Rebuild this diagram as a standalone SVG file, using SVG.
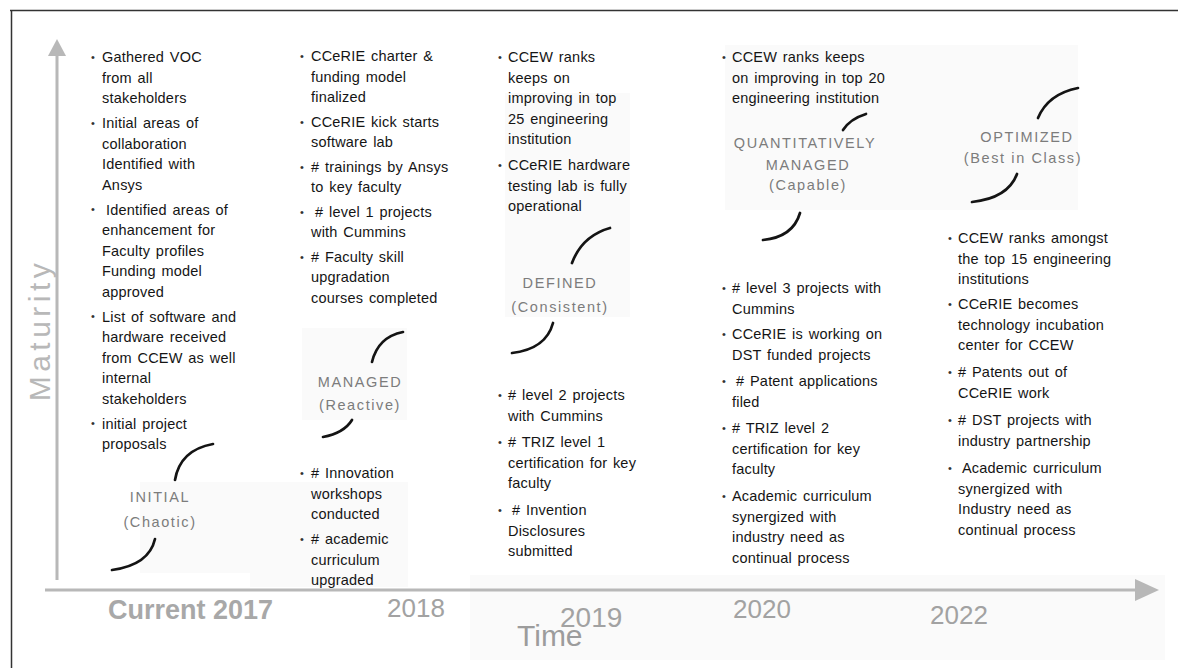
<svg xmlns="http://www.w3.org/2000/svg" width="1178" height="668" viewBox="0 0 1178 668">
<style>
.t{font-family:"Liberation Sans",Arial,sans-serif;font-size:14.5px;fill:#151515;letter-spacing:0.2px;word-spacing:1.5px}
.b{font-family:"Liberation Sans",Arial,sans-serif;font-size:11px;fill:#333}
.s{font-family:"Liberation Sans",Arial,sans-serif;font-size:14.5px;fill:#7c7c7c;text-anchor:middle;letter-spacing:1.6px}
.y{font-family:"Liberation Sans",Arial,sans-serif;font-size:26px;fill:#a2a2a2}
.ax{stroke:#b8b8b8;stroke-width:3;fill:none}
.ah{fill:#b8b8b8}
.c{stroke:#141414;stroke-width:2.7;fill:none;stroke-linecap:round}
.p{fill:#fafafa}
</style>
<rect width="1178" height="668" fill="#ffffff"/>
<g id="panels">
<rect class="p" x="725" y="45" width="353" height="165"/>
<rect class="p" x="505" y="93" width="125" height="224"/>
<rect class="p" x="302" y="328" width="105" height="92"/>
<rect class="p" x="140" y="482" width="140" height="91"/>
<rect class="p" x="250" y="482" width="158" height="105"/>
<rect class="p" x="470" y="575" width="695" height="85"/>
</g>
<g id="frame">
<line x1="10" y1="10.5" x2="1178" y2="10.5" stroke="#333" stroke-width="1.5"/>
<line x1="11.5" y1="10" x2="11.5" y2="668" stroke="#333" stroke-width="1.5"/>
</g>
<g id="axes">
<line class="ax" x1="57" y1="54" x2="57" y2="580"/>
<polygon class="ah" points="48,56 57,39 66,56"/>
<line class="ax" x1="45" y1="590" x2="1137" y2="590"/>
<polygon class="ah" points="1135,579 1159,590 1135,601"/>
<text class="y" style="font-size:30px;fill:#b8b8b8;letter-spacing:4.5px" transform="translate(50,330) rotate(-90)" text-anchor="middle">Maturity</text>
<text class="y" x="108" y="619" style="font-weight:bold;font-size:27px;fill:#a8a8a8">Current 2017</text>
<text class="y" x="387" y="617">2018</text>
<text class="y" x="560" y="627" style="font-size:28px">2019</text>
<text class="y" x="733" y="618">2020</text>
<text class="y" x="930" y="624">2022</text>
<text class="y" x="517" y="646" style="font-size:30px;fill:#9c9c9c">Time</text>
</g>
<g id="connectors">
<path class="c" d="M175,480 Q180,450 213,444"/>
<path class="c" d="M155,539 Q149,565 112,570"/>
<path class="c" d="M372,362 Q378,337 403,332"/>
<path class="c" d="M352,420 Q344,433 323,437"/>
<path class="c" d="M572,263 Q582,236 610,228"/>
<path class="c" d="M553,323 Q546,349 512,353"/>
<path class="c" d="M843,130 Q850,119 866,114"/>
<path class="c" d="M800,213 Q793,237 763,240"/>
<path class="c" d="M1038,118 Q1048,94 1078,88"/>
<path class="c" d="M1017,174 Q1008,198 972,202"/>
</g>
<g id="stage-initial">
<text class="s" x="160" y="502">INITIAL</text>
<text class="s" x="160" y="527">(Chaotic)</text>
</g>
<g id="stage-managed">
<text class="s" x="360" y="387">MANAGED</text>
<text class="s" x="360" y="410">(Reactive)</text>
</g>
<g id="stage-defined">
<text class="s" x="560" y="288">DEFINED</text>
<text class="s" x="560" y="312">(Consistent)</text>
</g>
<g id="stage-quantitative">
<text class="s" x="805" y="148">QUANTITATIVELY</text>
<text class="s" x="808" y="170">MANAGED</text>
<text class="s" x="808" y="190">(Capable)</text>
</g>
<g id="stage-optimized">
<text class="s" x="1027" y="142">OPTIMIZED</text>
<text class="s" x="1023" y="163">(Best in Class)</text>
</g>
<g id="col-2017">
<text class="b" x="91" y="61">•</text><text class="b" x="91" y="127">•</text><text class="b" x="91" y="213">•</text><text class="b" x="91" y="320">•</text><text class="b" x="91" y="427">•</text>
<text class="t"><tspan x="102" y="62">Gathered VOC</tspan><tspan x="102" y="82.5">from all</tspan><tspan x="102" y="103">stakeholders</tspan><tspan x="102" y="128">Initial areas of</tspan><tspan x="102" y="148.5">collaboration</tspan><tspan x="102" y="169">Identified with</tspan><tspan x="102" y="189.5">Ansys</tspan><tspan x="106" y="214.5">Identified areas of</tspan><tspan x="102" y="235">enhancement for</tspan><tspan x="102" y="255.5">Faculty profiles</tspan><tspan x="102" y="276">Funding model</tspan><tspan x="102" y="296.5">approved</tspan><tspan x="102" y="321.5">List of software and</tspan><tspan x="102" y="342">hardware received</tspan><tspan x="102" y="362.5">from CCEW as well</tspan><tspan x="102" y="383">internal</tspan><tspan x="102" y="403.5">stakeholders</tspan><tspan x="102" y="428.5">initial project</tspan><tspan x="102" y="449">proposals</tspan></text>
</g>
<g id="col-2018">
<text class="b" x="300" y="60">•</text><text class="b" x="300" y="126">•</text><text class="b" x="300" y="171">•</text><text class="b" x="300" y="216">•</text><text class="b" x="300" y="261">•</text><text class="b" x="300" y="477">•</text><text class="b" x="300" y="543">•</text>
<text class="t"><tspan x="311" y="61">CCeRIE charter &amp;</tspan><tspan x="311" y="81.5">funding model</tspan><tspan x="311" y="102">finalized</tspan><tspan x="311" y="126.5">CCeRIE kick starts</tspan><tspan x="311" y="147">software lab</tspan><tspan x="311" y="171.5"># trainings by Ansys</tspan><tspan x="311" y="192">to key faculty</tspan><tspan x="315" y="216.5"># level 1 projects</tspan><tspan x="311" y="237">with Cummins</tspan><tspan x="311" y="261.5"># Faculty skill</tspan><tspan x="311" y="282">upgradation</tspan><tspan x="311" y="302.5">courses completed</tspan><tspan x="311" y="478"># Innovation</tspan><tspan x="311" y="498.5">workshops</tspan><tspan x="311" y="519">conducted</tspan><tspan x="311" y="544"># academic</tspan><tspan x="311" y="564.5">curriculum</tspan><tspan x="311" y="585">upgraded</tspan></text>
</g>
<g id="col-2019">
<text class="b" x="498" y="61">•</text><text class="b" x="498" y="169">•</text><text class="b" x="498" y="399">•</text><text class="b" x="498" y="446">•</text><text class="b" x="498" y="514">•</text>
<text class="t"><tspan x="508" y="62">CCEW ranks</tspan><tspan x="508" y="82.5">keeps on</tspan><tspan x="508" y="103">improving in top</tspan><tspan x="508" y="123.5">25 engineering</tspan><tspan x="508" y="144">institution</tspan><tspan x="508" y="170">CCeRIE hardware</tspan><tspan x="508" y="190.5">testing lab is fully</tspan><tspan x="508" y="211">operational</tspan><tspan x="508" y="400"># level 2 projects</tspan><tspan x="508" y="420.5">with Cummins</tspan><tspan x="508" y="447"># TRIZ level 1</tspan><tspan x="508" y="467.5">certification for key</tspan><tspan x="508" y="488">faculty</tspan><tspan x="512" y="515"># Invention</tspan><tspan x="508" y="535.5">Disclosures</tspan><tspan x="508" y="556">submitted</tspan></text>
</g>
<g id="col-2020">
<text class="b" x="722" y="61">•</text><text class="b" x="722" y="292">•</text><text class="b" x="722" y="338">•</text><text class="b" x="722" y="385">•</text><text class="b" x="722" y="432">•</text><text class="b" x="722" y="500">•</text>
<text class="t"><tspan x="732" y="62">CCEW ranks keeps</tspan><tspan x="732" y="82.5">on improving in top 20</tspan><tspan x="732" y="103">engineering institution</tspan><tspan x="732" y="293"># level 3 projects with</tspan><tspan x="732" y="313.5">Cummins</tspan><tspan x="732" y="339">CCeRIE is working on</tspan><tspan x="732" y="359.5">DST funded projects</tspan><tspan x="736" y="386"># Patent applications</tspan><tspan x="732" y="406.5">filed</tspan><tspan x="732" y="433"># TRIZ level 2</tspan><tspan x="732" y="453.5">certification for key</tspan><tspan x="732" y="474">faculty</tspan><tspan x="732" y="501">Academic curriculum</tspan><tspan x="732" y="521.5">synergized with</tspan><tspan x="732" y="542">industry need as</tspan><tspan x="732" y="562.5">continual process</tspan></text>
</g>
<g id="col-2022">
<text class="b" x="948" y="242">•</text><text class="b" x="948" y="308">•</text><text class="b" x="948" y="376">•</text><text class="b" x="948" y="424">•</text><text class="b" x="948" y="472">•</text>
<text class="t"><tspan x="958" y="243">CCEW ranks amongst</tspan><tspan x="958" y="263.5">the top 15 engineering</tspan><tspan x="958" y="284">institutions</tspan><tspan x="958" y="309">CCeRIE becomes</tspan><tspan x="958" y="329.5">technology incubation</tspan><tspan x="958" y="350">center for CCEW</tspan><tspan x="958" y="377"># Patents out of</tspan><tspan x="958" y="397.5">CCeRIE work</tspan><tspan x="958" y="425"># DST projects with</tspan><tspan x="958" y="445.5">industry partnership</tspan><tspan x="962" y="473">Academic curriculum</tspan><tspan x="958" y="493.5">synergized with</tspan><tspan x="958" y="514">Industry need as</tspan><tspan x="958" y="534.5">continual process</tspan></text>
</g>
</svg>
